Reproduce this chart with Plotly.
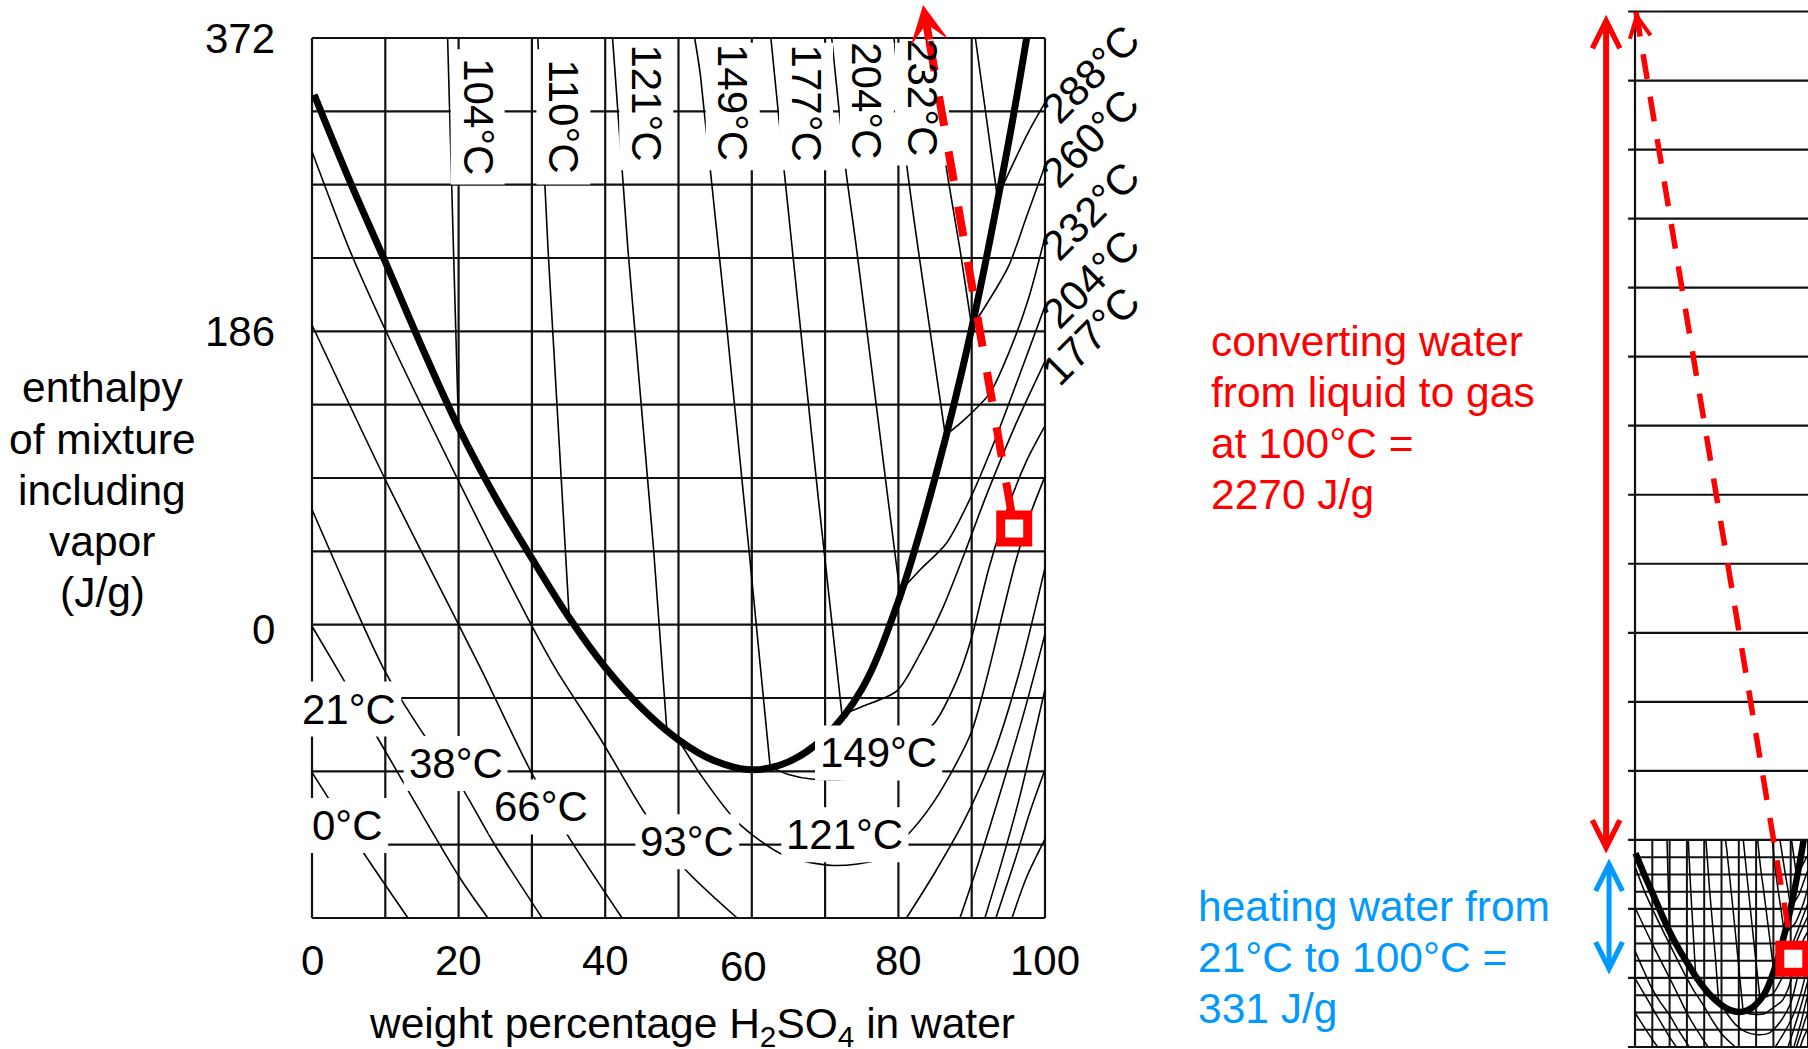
import plotly.graph_objects as go

# ------------------------------------------------------------------
# Values
# ------------------------------------------------------------------
x_tick_text = ["0", "20", "40", "60", "80", "100"]
x_tick_at = [0, 20, 40, 58.9, 80, 100]
y_tick_text = ["372", "186", "0"]
y_tick_at = [372, 186, 0]

conc_lines = [0, 10, 20, 30, 40, 50, 60, 70, 80, 90, 100]
enth_lines = [-186, -139.5, -93, -46.5, 0, 46.5, 93, 139.5, 186, 232.5, 279, 325.5, 372]
mini_major = [-186, 0, 186, 372, 558, 744, 930, 1116, 1302, 1488, 1674, 1860,
              2046, 2232, 2418, 2604]

# thick boiling curve (weight % H2SO4, J/g)
sat_x = [0.3, 5, 10, 15, 20, 25, 30, 35, 40, 45, 50, 55, 60, 65, 70, 75, 80, 85, 90, 95, 97.5]
sat_h = [336, 283, 230, 176, 125, 81, 42, 5, -27, -53, -73, -86.5, -92, -87, -71, -41, 15, 93, 188, 305, 372]

# isotherms in the two-phase (liquid + vapour) region
t104_x = [18.5, 19.3, 20.0];            t104_h = [372, 238, 124]
t110_x = [30.8, 32.2, 35.1];            t110_h = [372, 238, 4]
t121_x = [41.0, 43.1, 46.6, 48.4];      t121_h = [372, 238, 48, -66]
t149_x = [52.2, 53.0, 59.6, 62.5];      t149_h = [372, 348, 48, -90]
t177_x = [62.6, 64.3, 69.1, 72.3];      t177_h = [372, 293, 79, -57]
t204_x = [70.9, 72.7, 74.3, 78.6, 80.2]; t204_h = [372, 293, 238, 79, 21]
t232_x = [79.4, 81.1, 82.7, 86.4];      t232_h = [372, 293, 238, 120]
t260_x = [83.8, 86.8, 88.4, 90.0];      t260_h = [372, 282, 238, 189]
t288_x = [90.5, 93.5];                  t288_h = [372, 271]

# isotherms in the liquid region
l0a_x = [0, 6.8, 13.1];                  l0a_h = [-93.7, -143, -186]
l0b_x = [95.5, 97.5, 100];               l0b_h = [-186, -160, -136]
l21a_x = [0, 3.5, 8.6, 20.1, 24.0];      l21a_h = [-1, -28.5, -69, -160, -186]
l21b_x = [93.3, 96, 98, 100];            l21b_h = [-186, -148, -118, -92]
l38a_x = [0, 5, 10, 15, 20, 25, 31.4];   l38a_h = [73, 20, -30, -68, -100, -140, -186]
l38b_x = [91.8, 94, 96.5, 100];          l38b_h = [-186, -152, -110, -41]
l66a_x = [0, 10, 20, 23.1, 29.8, 34.8, 42.3]; l66a_h = [190, 92, 0, -28.5, -92.5, -133, -186]
l66b_x = [88.4, 91, 94, 97, 100];        l66b_h = [-186, -150, -105, -58, -6]
l93a_x = [0, 5.1, 10, 19.9, 29.9, 33.3, 39.3, 45.2, 50.5, 58]
l93a_h = [300, 238, 187, 92, 0, -28.5, -72, -118, -153, -186]
l93b_x = [81.1, 85, 89, 93, 96.5, 100];  l93b_h = [-186, -157, -124, -82, -30, 36]
l121_x = [48.4, 50.1, 53, 58, 64.3, 71.1, 77.5, 80.7, 84.8, 89.8, 92, 94, 96, 98, 100]
l121_h = [-66, -74.4, -95, -125, -146, -152.7, -148.5, -136, -112.5, -70, -35, 3, 40, 70, 94]
l149_x = [62.5, 65, 68.4, 74.8, 77.5, 80.5, 84.8, 88, 90, 92.3, 95, 97.5, 100]
l149_h = [-90, -95, -98, -96.6, -88, -78, -63, -35, -8, 35, 75, 104, 126]
l177_x = [72.3, 75, 79.8, 83, 86, 89, 92, 96, 100]; l177_h = [-57, -52, -42, -18, 10, 45, 82, 127, 167]
l204_x = [80.2, 83, 86.6, 90, 93, 96.5, 100];      l204_h = [21, 35, 52, 82, 115, 158, 202]
l232_x = [86.4, 89, 92.5, 95.2, 97.7, 100];        l232_h = [120, 130, 147, 174, 206, 246]
l260_x = [90.0, 91.6, 95, 97.5, 100];              l260_h = [189, 200, 227, 259, 291]
l288_x = [93.5, 97.7, 100];                        l288_h = [271, 312, 331]

# mixture point, pure-vapour point, energies
mix_x, mix_h = 95.8, 61
mini_mix_x, mini_mix_h = 91.5, 52
vapor_x, vapor_h = 0.6, 2603
arrow_tip_h = 393
heat_span = [5, 322]        # 331 J/g heating arrow
latent_span = [331, 2595]   # 2270 J/g vaporisation arrow

# labels
top_labels = ["104°C", "110°C", "121°C", "149°C", "177°C", "204°C", "232°C"]
top_label_x = [22.6, 34.3, 45.6, 57.4, 67.4, 75.7, 83.2]
top_label_h = [322, 322, 331, 331, 331, 332, 334]
low_labels = ["21°C", "38°C", "0°C", "66°C", "93°C", "121°C", "149°C"]
low_label_x = [5.1, 19.6, 4.9, 31.2, 51.2, 72.7, 77.3]
low_label_h = [-53.5, -88, -127.4, -115.6, -137.6, -133.2, -81.3]
right_labels = ["288°C", "260°C", "232°C", "204°C", "177°C"]
right_label_h = [349, 308, 262, 219, 183]

red_lines = ["converting water", "from liquid to gas", "at 100°C =", "2270 J/g"]
blue_lines = ["heating water from", "21°C to 100°C =", "331 J/g"]
ytitle_lines = ["enthalpy", "of mixture", "including", "vapor", "(J/g)"]

# ------------------------------------------------------------------
# Geometry / style
# ------------------------------------------------------------------
FIG_W, FIG_H = 1808, 1049
FONT = "Liberation Sans, Arial, Helvetica, sans-serif"
FS = 42
FS_BIG = 42.5
RED = "#FF0000"
BLUE = "#0099FF"

MX0, MX1 = 312, 1045
MY_TOP, MY_BOT = 38, 918
ppx = (MX1 - MX0) / 100.0
ppj = (MY_BOT - MY_TOP) / 558.0
x_range = [-3, 103]
y_range = [-190, 372 + MY_TOP / ppj]
dom_x = [(MX0 + x_range[0] * ppx) / FIG_W, (MX0 + x_range[1] * ppx) / FIG_W]
dom_y = [1 - (MY_BOT + (-186 - y_range[0]) * ppj) / FIG_H, 1.0]

NX0, NX1 = 1635, 1808
NY_TOP, NY_BOT = 11.5, 1047
nppx = (NX1 - NX0) / 100.0
nppj = (NY_BOT - NY_TOP) / 2790.0
x2_range = [-37.6, 100]
dom_x2 = [(NX0 + x2_range[0] * nppx) / FIG_W, 1.0]
y2_range = [-186 - (FIG_H - NY_BOT) / nppj, 2604 + NY_TOP / nppj]

tie_curves = [(t104_x, t104_h), (t110_x, t110_h), (t121_x, t121_h), (t149_x, t149_h),
              (t177_x, t177_h), (t204_x, t204_h), (t232_x, t232_h), (t260_x, t260_h),
              (t288_x, t288_h)]
liq_curves = [(l0a_x, l0a_h), (l0b_x, l0b_h), (l21a_x, l21a_h), (l21b_x, l21b_h),
              (l38a_x, l38a_h), (l38b_x, l38b_h), (l66a_x, l66a_h), (l66b_x, l66b_h),
              (l93a_x, l93a_h), (l93b_x, l93b_h), (l121_x, l121_h), (l149_x, l149_h),
              (l177_x, l177_h), (l204_x, l204_h), (l232_x, l232_h), (l260_x, l260_h),
              (l288_x, l288_h)]


def segs(pairs):
    xs, ys = [], []
    for (x0, y0), (x1, y1) in pairs:
        xs += [x0, x1, None]
        ys += [y0, y1, None]
    return xs, ys


def on_line(h, x0, h0, x1, h1):
    return x0 + (h - h0) / (h1 - h0) * (x1 - x0)


def text_w(s):
    w = {"°": 0.4, "C": 0.722}
    return sum(w.get(c, 0.556) for c in s) * FS


fig = go.Figure()


def add_chart(xa, ya, grid_w, thin_w, thick_w):
    gx, gy = segs([((c, -186), (c, 372)) for c in conc_lines] +
                  [((0, h), (100, h)) for h in enth_lines])
    fig.add_trace(go.Scatter(x=gx, y=gy, mode="lines", xaxis=xa, yaxis=ya,
                             line=dict(color="#111", width=grid_w), hoverinfo="skip"))
    for cx, ch in tie_curves + liq_curves:
        fig.add_trace(go.Scatter(x=cx, y=ch, mode="lines", xaxis=xa, yaxis=ya,
                                 line=dict(color="black", width=thin_w, shape="spline", smoothing=0.8),
                                 hoverinfo="skip"))
    fig.add_trace(go.Scatter(x=sat_x, y=sat_h, mode="lines", xaxis=xa, yaxis=ya,
                             line=dict(color="black", width=thick_w, shape="spline", smoothing=1.0),
                             hoverinfo="skip"))


# ---------------- main chart ----------------
add_chart("x", "y", 2.2, 1.6, 7)

# white label backgrounds (drawn over the grid and curves)
bx, by = [], []
for s, cx, ch in zip(top_labels, top_label_x, top_label_h):
    hw, hh = 27 / ppx, (text_w(s) / 2 + 9) / ppj
    y1 = min(ch + hh, 369)
    bx += [cx - hw, cx + hw, cx + hw, cx - hw, cx - hw, None]
    by += [ch - hh, ch - hh, y1, y1, ch - hh, None]
for s, cx, ch in zip(low_labels, low_label_x, low_label_h):
    hw, hh = (text_w(s) / 2 + 5) / ppx, 27.5 / ppj
    bx += [cx - hw, cx + hw, cx + hw, cx - hw, cx - hw, None]
    by += [ch - hh, ch - hh, ch + hh, ch + hh, ch - hh, None]
fig.add_trace(go.Scatter(x=bx, y=by, mode="none", fill="toself", fillcolor="white",
                         hoverinfo="skip"))

# red dashed line to the vapour point, arrow head at top
tail_h = 370
tail_x = on_line(tail_h, mix_x, mix_h, vapor_x, vapor_h)
tip_x = on_line(arrow_tip_h, mix_x, mix_h, vapor_x, vapor_h)
fig.add_trace(go.Scatter(x=[tail_x, mix_x], y=[tail_h, mix_h], mode="lines",
                         line=dict(color=RED, width=8, dash="30px,26px"), hoverinfo="skip"))
fig.add_trace(go.Scatter(x=[mix_x], y=[mix_h], mode="markers",
                         marker=dict(symbol="square", size=27, color="white",
                                     line=dict(color=RED, width=9)), hoverinfo="skip"))

# ---------------- mini chart ----------------
add_chart("x2", "y2", 2.0, 1.5, 6.5)
mx, my = segs([((-4, h), (100, h)) for h in mini_major] + [((0, -186), (0, 2604))])
fig.add_trace(go.Scatter(x=mx, y=my, mode="lines", xaxis="x2", yaxis="y2",
                         line=dict(color="#111", width=2.2), hoverinfo="skip"))
mtail_h = 2545
mtail_x = on_line(mtail_h, mini_mix_x, mini_mix_h, vapor_x, vapor_h)
fig.add_trace(go.Scatter(x=[vapor_x, mini_mix_x], y=[vapor_h, mini_mix_h], mode="lines",
                         xaxis="x2", yaxis="y2",
                         line=dict(color=RED, width=5.5, dash="25px,18px"), hoverinfo="skip"))
fig.add_trace(go.Scatter(x=[mini_mix_x], y=[mini_mix_h], mode="markers", xaxis="x2", yaxis="y2",
                         marker=dict(symbol="square", size=27, color="white",
                                     line=dict(color=RED, width=9)),
                         cliponaxis=False, hoverinfo="skip"))

# ------------------------------------------------------------------
# Annotations
# ------------------------------------------------------------------
ann = []
tf = dict(family=FONT, size=FS, color="black")
tfb = dict(family=FONT, size=FS_BIG, color="black")

for s, xv in zip(x_tick_text, x_tick_at):
    ann.append(dict(x=xv, y=-186, xref="x", yref="y", text=s, showarrow=False, font=tf,
                    xanchor="center", yanchor="middle", yshift=-48 if s == "60" else -42))
for s, yv in zip(y_tick_text, y_tick_at):
    ann.append(dict(x=0, y=yv, xref="x", yref="y", text=s, showarrow=False, font=tf,
                    xanchor="right", yanchor="middle", xshift=-35, yshift=-5 if s == "0" else 0))
ann.append(dict(x=51.8, y=-186, xref="x", yref="y",
                text="weight percentage H<sub>2</sub>SO<sub>4</sub> in water",
                showarrow=False, font=tfb, xanchor="center", yanchor="middle", yshift=-108))
ytitle_y = [387.4, 439.3, 490, 541.9, 592.6]
for s, yp in zip(ytitle_lines, ytitle_y):
    ann.append(dict(x=102 / FIG_W, y=1 - yp / FIG_H, xref="paper", yref="paper", text=s,
                    showarrow=False, font=tfb, xanchor="center", yanchor="middle"))

for s, cx, ch in zip(top_labels, top_label_x, top_label_h):
    ann.append(dict(x=cx, y=ch, xref="x", yref="y", text=s, showarrow=False, font=tf,
                    textangle=90, xanchor="center", yanchor="middle"))
for s, cx, ch in zip(low_labels, low_label_x, low_label_h):
    ann.append(dict(x=cx, y=ch, xref="x", yref="y", text=s, showarrow=False, font=tf,
                    xanchor="center", yanchor="middle"))
for s, ch in zip(right_labels, right_label_h):
    ann.append(dict(x=100, y=ch, xref="x", yref="y", text=s, showarrow=False, font=tf,
                    textangle=-45, xanchor="center", yanchor="middle", xshift=45))

red_y = [341.3, 392, 443.9, 494.6]
for s, yp in zip(red_lines, red_y):
    ann.append(dict(x=1209 / FIG_W, y=1 - yp / FIG_H, xref="paper", yref="paper", text=s,
                    showarrow=False, font=dict(family=FONT, size=FS_BIG, color=RED),
                    xanchor="left", yanchor="middle"))
blue_y = [906.3, 957, 1008.9]
for s, yp in zip(blue_lines, blue_y):
    ann.append(dict(x=1196 / FIG_W, y=1 - yp / FIG_H, xref="paper", yref="paper", text=s,
                    showarrow=False, font=dict(family=FONT, size=FS_BIG, color=BLUE),
                    xanchor="left", yanchor="middle"))

# arrow heads / arrows
ann.append(dict(x=tip_x, y=arrow_tip_h, ax=tail_x, ay=tail_h, xref="x", yref="y",
                axref="x", ayref="y", text="", showarrow=True, arrowhead=3, arrowsize=0.8,
                arrowwidth=8, arrowcolor=RED, standoff=0))
ann.append(dict(x=vapor_x, y=vapor_h, ax=mtail_x, ay=mtail_h, xref="x2", yref="y2",
                axref="x2", ayref="y2", text="", showarrow=True, arrowhead=5, arrowsize=0.75,
                arrowwidth=5.5, arrowcolor=RED, standoff=0))
ann.append(dict(x=-16.7, y=latent_span[1], ax=-16.7, ay=latent_span[0], xref="x2", yref="y2",
                axref="x2", ayref="y2", text="", showarrow=True, arrowside="end+start",
                arrowhead=5, startarrowhead=5, arrowsize=0.9, startarrowsize=0.9,
                arrowwidth=6, arrowcolor=RED, standoff=0, startstandoff=0))
ann.append(dict(x=-15.0, y=heat_span[1], ax=-15.0, ay=heat_span[0], xref="x2", yref="y2",
                axref="x2", ayref="y2", text="", showarrow=True, arrowside="end+start",
                arrowhead=5, startarrowhead=5, arrowsize=1.05, startarrowsize=1.05,
                arrowwidth=5, arrowcolor=BLUE, standoff=0, startstandoff=0))

ax_off = dict(visible=False, showgrid=False, zeroline=False, fixedrange=True)
fig.update_layout(
    width=FIG_W, height=FIG_H, margin=dict(l=0, r=0, t=0, b=0),
    paper_bgcolor="white", plot_bgcolor="rgba(0,0,0,0)", showlegend=False,
    font=dict(family=FONT, size=FS, color="black"),
    xaxis=dict(range=x_range, domain=dom_x, **ax_off),
    yaxis=dict(range=y_range, domain=dom_y, **ax_off),
    xaxis2=dict(range=x2_range, domain=dom_x2, anchor="y2", **ax_off),
    yaxis2=dict(range=y2_range, domain=[0, 1], anchor="x2", **ax_off),
    annotations=ann,
)

fig.write_html("out.html", config={"displayModeBar": False},
               post_script="document.body.style.margin='0';document.body.style.overflow='hidden';")
